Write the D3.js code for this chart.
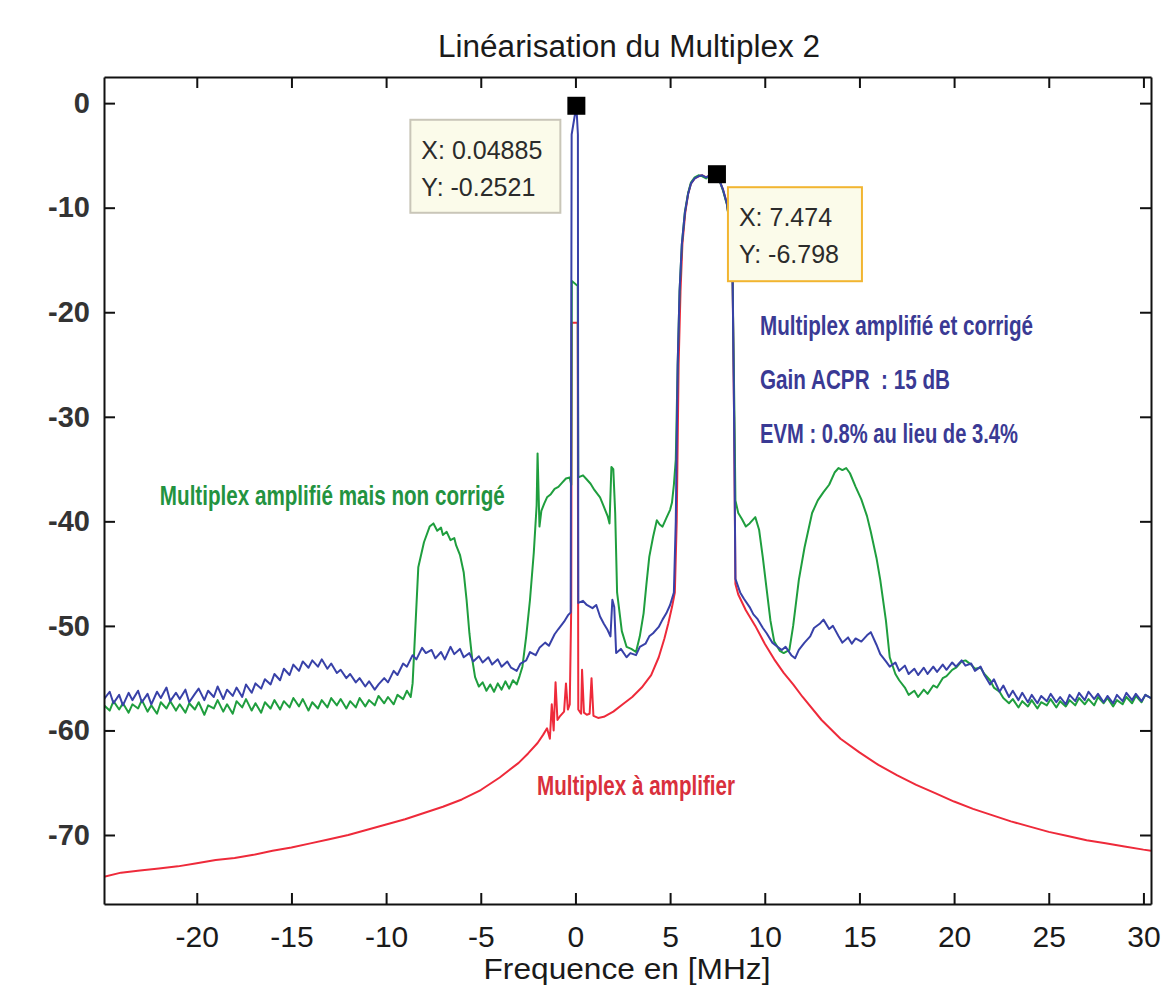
<!DOCTYPE html>
<html>
<head>
<meta charset="utf-8">
<script src="https://cdn.jsdelivr.net/npm/d3@7"></script>
<style>
  body { margin: 0; background: #ffffff; }
  .axis path, .axis line { stroke: #111; stroke-width: 2px; }
  .axis text { fill: #1a1a1a; font-family: "Liberation Sans", Arial, sans-serif; }
</style>
</head>
<body>
<div id="chart"></div>
<script>
// frequency axis ticks (MHz) and level ticks (dB)
const freqTicks = [-20, -15, -10, -5, 0, 5, 10, 15, 20, 25, 30];
const levelTicks = [0, -10, -20, -30, -40, -50, -60, -70];

// Multiplex à amplifier (input), [MHz, dB]
const inputSpectrum = [
  [-24.9, -74.0], [-24, -73.6], [-23, -73.4], [-22, -73.2], [-21, -73.0], [-20, -72.7],
  [-19, -72.4], [-18, -72.2], [-17, -71.9], [-16, -71.5], [-15, -71.2], [-14, -70.8],
  [-13, -70.4], [-12, -70.0], [-11, -69.5], [-10, -69.0], [-9, -68.5], [-8, -67.9],
  [-7, -67.3], [-6, -66.6], [-5, -65.7], [-4, -64.5], [-3, -63.1], [-2.5, -62.2],
  [-2, -61.2], [-1.7, -60.4], [-1.5, -59.8], [-1.35, -60.8], [-1.25, -57.5], [-1.15, -60.0],
  [-1.05, -55.4], [-0.95, -59.0], [-0.8, -58.6], [-0.6, -58.2], [-0.5, -55.5], [-0.4, -58.0],
  [-0.3, -57.5], [-0.22, -48], [-0.2, -21], [0.12, -21], [0.15, -58.0], [0.3, -58.4],
  [0.35, -54.2], [0.45, -58.3], [0.6, -58.5], [0.75, -58.4], [0.85, -55.0], [0.95, -58.6],
  [1.2, -58.8], [1.5, -58.7], [2.0, -58.2], [2.5, -57.5], [3.0, -56.8], [3.5, -55.9],
  [4.0, -54.7], [4.4, -53.0], [4.7, -51.2], [4.9, -49.8], [5.1, -48.2], [5.25, -46.8],
  [5.35, -40], [5.45, -25], [5.55, -18], [5.65, -13.5], [5.8, -10.5], [5.95, -8.7],
  [6.1, -7.7], [6.3, -7.2], [6.5, -7.0], [6.7, -6.9], [6.9, -7.1], [7.1, -6.9],
  [7.3, -6.8], [7.47, -6.8], [7.65, -7.6], [7.8, -8.3], [8.0, -9.6], [8.15, -11.5],
  [8.3, -16.5], [8.38, -30], [8.45, -46.0], [8.6, -47.0], [9.0, -48.5], [9.5, -50.0],
  [10, -51.7], [10.5, -53.2], [11, -54.5], [11.5, -55.6], [12, -56.8], [13, -59.0],
  [14, -60.8], [15, -62.1], [16, -63.3], [17, -64.3], [18, -65.2], [19, -66.0],
  [20, -66.8], [21, -67.5], [22, -68.1], [23, -68.7], [24, -69.2], [25, -69.7],
  [26, -70.1], [27, -70.5], [28, -70.8], [29, -71.1], [30, -71.4], [30.4, -71.5]
];

// Multiplex amplifié mais non corrigé, [MHz, dB]
const uncorrectedSpectrum = [
  [-24.9, -57.6], [-24.6, -58.1], [-24.4, -57.2], [-24.1, -58.0], [-23.9, -57.4], [-23.6, -58.3],
  [-23.4, -57.5], [-23.1, -57.9], [-22.9, -57.1], [-22.6, -58.2], [-22.4, -57.6], [-22.1, -58.4],
  [-21.9, -57.3], [-21.6, -57.9], [-21.4, -57.2], [-21.1, -58.1], [-20.9, -57.5], [-20.6, -58.3],
  [-20.4, -57.4], [-20.1, -58.0], [-19.9, -57.3], [-19.6, -58.5], [-19.4, -57.6], [-19.1, -57.9],
  [-18.9, -57.1], [-18.6, -58.2], [-18.4, -57.5], [-18.1, -58.4], [-17.9, -57.2], [-17.6, -57.8],
  [-17.4, -57.0], [-17.1, -58.1], [-16.9, -57.4], [-16.6, -58.3], [-16.4, -57.3], [-16.1, -57.9],
  [-15.9, -57.1], [-15.6, -58.0], [-15.4, -57.2], [-15.1, -57.8], [-14.9, -56.9], [-14.6, -57.7],
  [-14.4, -57.0], [-14.1, -58.1], [-13.9, -57.3], [-13.6, -57.9], [-13.4, -57.1], [-13.1, -57.8],
  [-12.9, -56.9], [-12.6, -57.6], [-12.4, -57.0], [-12.1, -57.9], [-11.9, -57.2], [-11.6, -57.8],
  [-11.4, -56.9], [-11.1, -57.7], [-10.9, -57.1], [-10.6, -57.6], [-10.4, -56.7], [-10.1, -57.4],
  [-9.9, -56.8], [-9.6, -57.5], [-9.4, -56.6], [-9.1, -57.0], [-8.9, -56.2], [-8.7, -56.8],
  [-8.6, -55.5], [-8.45, -50], [-8.3, -44.4], [-8.0, -42.0], [-7.7, -40.5], [-7.5, -40.2],
  [-7.3, -40.9], [-7.1, -40.6], [-7.0, -41.3], [-6.8, -41.0], [-6.6, -41.8], [-6.4, -41.6],
  [-6.3, -42.3], [-6.1, -43.2], [-5.9, -44.9], [-5.75, -47.5], [-5.6, -50.7], [-5.45, -53.2],
  [-5.3, -54.9], [-5.1, -55.8], [-4.9, -55.4], [-4.7, -56.2], [-4.5, -55.6], [-4.3, -56.3],
  [-4.1, -55.5], [-3.9, -56.1], [-3.7, -55.3], [-3.5, -56.0], [-3.3, -55.2], [-3.1, -55.6],
  [-2.95, -54.8], [-2.8, -53.9], [-2.6, -51.0], [-2.4, -47.5], [-2.2, -43.0], [-2.05, -38.5],
  [-2.0, -33.5], [-1.9, -40.5], [-1.8, -39.0], [-1.65, -38.3], [-1.5, -37.7], [-1.3, -37.4],
  [-1.1, -36.9], [-0.9, -36.7], [-0.7, -36.3], [-0.5, -35.9], [-0.3, -35.8], [-0.22, -36.5],
  [-0.19, -17.0], [0.12, -17.5], [0.15, -35.8], [0.4, -35.6], [0.6, -36.0], [0.8, -36.4],
  [1.0, -37.0], [1.3, -37.7], [1.5, -38.6], [1.7, -39.5], [1.8, -40.2], [1.9, -34.8],
  [2.0, -35.0], [2.1, -39.2], [2.2, -46.8], [2.45, -50.5], [2.7, -52.0], [2.95, -52.2],
  [3.2, -52.5], [3.4, -51.0], [3.6, -48.8], [3.75, -46.0], [3.9, -43.4], [4.1, -41.5],
  [4.3, -39.9], [4.45, -40.3], [4.6, -40.5], [4.8, -39.7], [5.0, -38.9], [5.1, -38.2],
  [5.2, -36.5], [5.3, -34.1], [5.4, -25], [5.5, -18], [5.62, -13.5], [5.78, -10.4],
  [5.95, -8.6], [6.1, -7.6], [6.3, -7.1], [6.5, -6.9], [6.7, -7.0], [6.9, -7.2],
  [7.1, -6.9], [7.3, -6.9], [7.47, -6.8], [7.65, -7.6], [7.8, -8.4], [8.0, -9.7],
  [8.15, -11.6], [8.3, -16.8], [8.4, -30], [8.45, -38.0], [8.6, -39.2], [8.8, -39.8],
  [9.0, -40.5], [9.2, -40.2], [9.5, -39.6], [9.7, -40.8], [9.9, -43.5], [10.1, -46.5],
  [10.3, -49.5], [10.5, -51.5], [10.8, -52.4], [11.0, -52.6], [11.3, -52.3], [11.5, -50.0],
  [11.8, -45.6], [12.1, -42.5], [12.5, -39.2], [12.8, -38.0], [13.1, -37.2], [13.4, -36.5],
  [13.7, -35.3], [13.9, -34.9], [14.1, -35.1], [14.3, -34.9], [14.5, -35.4], [14.8, -36.7],
  [15.1, -37.9], [15.4, -39.5], [15.6, -41.0], [15.9, -43.5], [16.1, -45.6], [16.4, -49.5],
  [16.6, -53.0], [16.9, -54.6], [17.1, -55.2], [17.4, -55.9], [17.6, -56.6], [17.9, -56.2],
  [18.1, -56.8], [18.4, -56.1], [18.6, -56.5], [18.9, -55.7], [19.1, -55.9], [19.4, -55.0],
  [19.6, -54.8], [19.9, -54.2], [20.1, -54.0], [20.4, -53.4], [20.6, -53.3], [20.9, -53.7],
  [21.1, -54.1], [21.4, -54.0], [21.6, -54.6], [21.9, -55.2], [22.1, -55.9], [22.4, -56.3],
  [22.6, -56.9], [22.9, -57.4], [23.1, -57.0], [23.4, -57.8], [23.6, -57.2], [23.9, -57.7],
  [24.1, -57.1], [24.4, -57.9], [24.6, -57.3], [24.9, -57.6], [25.1, -57.0], [25.4, -57.8],
  [25.6, -57.2], [25.9, -57.7], [26.1, -57.1], [26.4, -57.6], [26.6, -56.9], [26.9, -57.5],
  [27.1, -57.0], [27.4, -57.6], [27.6, -56.8], [27.9, -57.4], [28.1, -56.9], [28.4, -57.7],
  [28.6, -57.1], [28.9, -57.5], [29.1, -56.8], [29.4, -57.4], [29.6, -56.7], [29.9, -57.3],
  [30.1, -56.6], [30.4, -56.9]
];

// Multiplex amplifié et corrigé, [MHz, dB]
const correctedSpectrum = [
  [-24.9, -57.0], [-24.6, -56.3], [-24.4, -57.4], [-24.1, -56.6], [-23.9, -57.6], [-23.6, -56.4],
  [-23.4, -57.1], [-23.1, -56.2], [-22.9, -57.3], [-22.6, -56.5], [-22.4, -57.5], [-22.1, -56.3],
  [-21.9, -56.9], [-21.6, -55.9], [-21.4, -57.2], [-21.1, -56.4], [-20.9, -57.0], [-20.6, -56.1],
  [-20.4, -57.3], [-20.1, -56.5], [-19.9, -56.0], [-19.6, -57.1], [-19.4, -56.2], [-19.1, -56.8],
  [-18.9, -55.8], [-18.6, -57.0], [-18.4, -56.1], [-18.1, -56.7], [-17.9, -55.9], [-17.6, -56.8],
  [-17.4, -55.6], [-17.1, -56.4], [-16.9, -55.5], [-16.6, -56.0], [-16.4, -55.1], [-16.1, -55.6],
  [-15.9, -54.6], [-15.6, -55.2], [-15.4, -54.1], [-15.1, -54.7], [-14.9, -53.7], [-14.6, -54.3],
  [-14.4, -53.4], [-14.1, -54.0], [-13.9, -53.3], [-13.6, -53.9], [-13.4, -53.2], [-13.1, -54.1],
  [-12.9, -53.6], [-12.6, -54.5], [-12.4, -54.2], [-12.1, -55.0], [-11.9, -54.6], [-11.6, -55.4],
  [-11.4, -55.0], [-11.1, -55.8], [-10.9, -55.3], [-10.6, -56.1], [-10.4, -55.6], [-10.1, -55.0],
  [-9.9, -55.4], [-9.6, -54.3], [-9.4, -54.7], [-9.1, -53.6], [-8.9, -53.9], [-8.6, -52.8],
  [-8.4, -53.2], [-8.1, -52.1], [-7.9, -52.6], [-7.6, -52.3], [-7.4, -53.1], [-7.1, -52.5],
  [-6.9, -53.2], [-6.6, -52.0], [-6.4, -52.7], [-6.1, -52.2], [-5.9, -53.0], [-5.6, -52.6],
  [-5.4, -53.4], [-5.1, -52.9], [-4.9, -53.5], [-4.6, -53.0], [-4.4, -53.7], [-4.1, -53.2],
  [-3.9, -53.9], [-3.6, -53.4], [-3.4, -54.0], [-3.1, -54.3], [-2.9, -53.6], [-2.6, -53.3],
  [-2.4, -52.5], [-2.1, -52.8], [-1.9, -52.1], [-1.6, -51.6], [-1.4, -51.9], [-1.1, -50.8],
  [-0.9, -50.3], [-0.6, -49.6], [-0.4, -49.0], [-0.25, -48.7], [-0.2, -3.0], [0.05, -0.25],
  [0.13, -3.0], [0.15, -47.8], [0.4, -47.6], [0.6, -48.0], [0.9, -48.3], [1.1, -48.0],
  [1.3, -49.1], [1.5, -49.8], [1.7, -50.4], [1.85, -51.0], [1.95, -47.5], [2.05, -48.2],
  [2.15, -52.6], [2.4, -52.2], [2.7, -53.0], [2.9, -52.6], [3.2, -52.8], [3.4, -52.0],
  [3.7, -51.7], [3.9, -51.0], [4.1, -50.7], [4.4, -50.1], [4.6, -49.4], [4.8, -48.8],
  [5.0, -48.0], [5.2, -46.8], [5.3, -40], [5.4, -25], [5.5, -18], [5.62, -13.5],
  [5.78, -10.5], [5.95, -8.7], [6.1, -7.7], [6.3, -7.2], [6.5, -7.0], [6.7, -6.9],
  [6.9, -7.1], [7.1, -6.9], [7.3, -6.8], [7.47, -6.8], [7.65, -7.6], [7.8, -8.3],
  [8.0, -9.6], [8.15, -11.5], [8.3, -16.5], [8.38, -30], [8.45, -45.5], [8.7, -46.8],
  [8.9, -47.4], [9.2, -48.2], [9.4, -48.9], [9.6, -49.3], [9.9, -50.2], [10.1, -50.7],
  [10.4, -51.6], [10.6, -51.9], [10.9, -52.3], [11.1, -52.0], [11.4, -52.8], [11.6, -53.1],
  [11.8, -52.3], [12.1, -51.6], [12.4, -51.0], [12.6, -50.2], [12.9, -49.8], [13.1, -49.4],
  [13.4, -50.3], [13.6, -50.0], [13.9, -51.0], [14.1, -51.6], [14.4, -51.1], [14.6, -51.7],
  [14.8, -51.2], [15.1, -51.5], [15.4, -50.9], [15.6, -50.6], [15.9, -51.8], [16.1, -52.7],
  [16.4, -53.4], [16.6, -53.9], [16.9, -53.5], [17.1, -54.3], [17.4, -53.8], [17.6, -54.6],
  [17.9, -54.1], [18.1, -54.7], [18.4, -54.0], [18.6, -54.6], [18.9, -53.9], [19.1, -54.4],
  [19.4, -53.7], [19.6, -54.2], [19.9, -53.5], [20.1, -53.9], [20.4, -53.3], [20.6, -53.8],
  [20.9, -53.6], [21.1, -54.3], [21.4, -53.9], [21.6, -54.7], [21.9, -55.6], [22.1, -55.1],
  [22.4, -56.3], [22.6, -55.7], [22.9, -56.8], [23.1, -56.2], [23.4, -57.1], [23.6, -56.4],
  [23.9, -57.3], [24.1, -56.6], [24.4, -57.4], [24.6, -56.7], [24.9, -57.2], [25.1, -56.5],
  [25.4, -57.3], [25.6, -56.8], [25.9, -57.5], [26.1, -56.6], [26.4, -57.2], [26.6, -56.4],
  [26.9, -57.1], [27.1, -56.3], [27.4, -57.0], [27.6, -56.5], [27.9, -57.3], [28.1, -56.7],
  [28.4, -57.4], [28.6, -56.6], [28.9, -57.2], [29.1, -56.4], [29.4, -57.1], [29.6, -56.5],
  [29.9, -57.2], [30.1, -56.6], [30.4, -56.9]
];

// data cursors shown on the plot
const dataTips = [
  {x: 0.04885, y: -0.2521, label: ["X: 0.04885", "Y: -0.2521"]},
  {x: 7.474, y: -6.798, label: ["X: 7.474", "Y: -6.798"]}
];

const seriesColors = {input: "#ee2a3a", uncorrected: "#1f9e3e", corrected: "#3841a8"};

let margin = {top: 77, right: 11, bottom: 85, left: 104};
let width = 1162 - margin.left - margin.right,
    height = 989 - margin.top - margin.bottom;

let svg = d3.select("#chart").append("svg")
    .attr("width", 1162)
    .attr("height", 989);

let xScale = d3.scaleLinear().domain([-24.9, 30.4]).range([0, width]);
let yScale = d3.scaleLinear().domain([-76.6, 2.5]).range([height, 0]);

let plot = svg.append("g")
    .attr("transform", `translate(${margin.left}, ${margin.top})`);

let line = d3.line()
    .x(d => xScale(d[0]))
    .y(d => yScale(d[1]));

plot.append("defs").append("clipPath").attr("id", "clip")
    .append("rect").attr("width", width).attr("height", height);

let curves = plot.append("g").attr("clip-path", "url(#clip)");
[[inputSpectrum, seriesColors.input],
 [uncorrectedSpectrum, seriesColors.uncorrected],
 [correctedSpectrum, seriesColors.corrected]].forEach(([data, color]) => {
    curves.append("path")
        .datum(data)
        .attr("fill", "none")
        .attr("stroke", color)
        .attr("stroke-width", 2)
        .attr("stroke-linejoin", "round")
        .attr("d", line);
});

// plain hyphen for negative numbers, like the original
let plainFormat = d => String(d);

// axes: inward ticks on all four sides, like a boxed MATLAB plot
plot.append("g").attr("class", "axis")
    .attr("transform", `translate(0, ${height})`)
    .call(d3.axisBottom(xScale).tickValues(freqTicks).tickSize(-11).tickSizeOuter(0)
        .tickPadding(22).tickFormat(plainFormat))
    .selectAll("text")
    .style("font-family", "'Liberation Sans Narrow', 'Liberation Sans', sans-serif")
    .style("font-size", "30px");

plot.append("g").attr("class", "axis")
    .call(d3.axisTop(xScale).tickValues(freqTicks).tickSize(-11).tickSizeOuter(0).tickFormat(""));

plot.append("g").attr("class", "axis")
    .call(d3.axisLeft(yScale).tickValues(levelTicks).tickSize(-11).tickSizeOuter(0)
        .tickPadding(14).tickFormat(plainFormat))
    .selectAll("text")
    .style("font-size", "29px")
    .style("font-weight", "bold")
    .style("fill", "#333");

plot.append("g").attr("class", "axis")
    .attr("transform", `translate(${width}, 0)`)
    .call(d3.axisRight(yScale).tickValues(levelTicks).tickSize(-11).tickSizeOuter(0).tickFormat(""));

// data tips
let tipBoxes = [
    {dx: -166, dy: 14, w: 150, h: 93, stroke: "#c9c6b8"},
    {dx: 11, dy: 13, w: 134, h: 94, stroke: "#f2b530"}
];
dataTips.forEach((tip, i) => {
    let px = xScale(tip.x), py = yScale(tip.y);
    let box = tipBoxes[i];
    plot.append("rect")
        .attr("x", px + box.dx).attr("y", py + box.dy)
        .attr("width", box.w).attr("height", box.h)
        .attr("fill", "#fbfbea")
        .attr("stroke", box.stroke)
        .attr("stroke-width", 2);
    tip.label.forEach((t, j) => {
        plot.append("text")
            .attr("x", px + box.dx + 11)
            .attr("y", py + box.dy + 39 + j * 37)
            .style("font-family", "'Liberation Sans', Arial, sans-serif")
            .style("font-size", "25px")
            .style("fill", "#2b2b2b")
            .text(t);
    });
    plot.append("rect")
        .attr("x", px - 9).attr("y", py - 9)
        .attr("width", 18).attr("height", 18)
        .attr("fill", "#000");
});

// series labels
const seriesLabels = [
    {text: "Multiplex amplifié et corrigé", x: 9.75, y: -22.2, len: 273, color: "#3a3a94"},
    {text: "Gain ACPR  : 15 dB", x: 9.75, y: -27.3, len: 190, color: "#3a3a94"},
    {text: "EVM : 0.8% au lieu de 3.4%", x: 9.75, y: -32.5, len: 258, color: "#3a3a94"},
    {text: "Multiplex amplifié mais non corrigé", x: -21.95, y: -38.45, len: 345, color: "#23933f"},
    {text: "Multiplex à amplifier", x: -2.03, y: -66.2, len: 198, color: "#d9303c"}
];
seriesLabels.forEach(l => {
    plot.append("text")
        .attr("x", xScale(l.x))
        .attr("y", yScale(l.y))
        .attr("textLength", l.len)
        .attr("lengthAdjust", "spacingAndGlyphs")
        .attr("xml:space", "preserve")
        .style("white-space", "pre")
        .style("font-family", "'Liberation Sans Narrow', 'Liberation Sans', sans-serif")
        .style("font-weight", "bold")
        .style("font-size", "28px")
        .style("fill", l.color)
        .text(l.text);
});

// title and axis label
svg.append("text")
    .attr("x", 629).attr("y", 57)
    .attr("text-anchor", "middle")
    .attr("textLength", 382)
    .attr("lengthAdjust", "spacingAndGlyphs")
    .style("font-family", "'Liberation Sans', Arial, sans-serif")
    .style("font-size", "31px")
    .style("fill", "#1a1a1a")
    .text("Linéarisation du Multiplex 2");

svg.append("text")
    .attr("x", 627).attr("y", 979)
    .attr("text-anchor", "middle")
    .attr("textLength", 287)
    .attr("lengthAdjust", "spacingAndGlyphs")
    .style("font-family", "'Liberation Sans Narrow', 'Liberation Sans', sans-serif")
    .style("font-size", "30px")
    .style("fill", "#1a1a1a")
    .text("Frequence en [MHz]");
</script>
</body>
</html>
